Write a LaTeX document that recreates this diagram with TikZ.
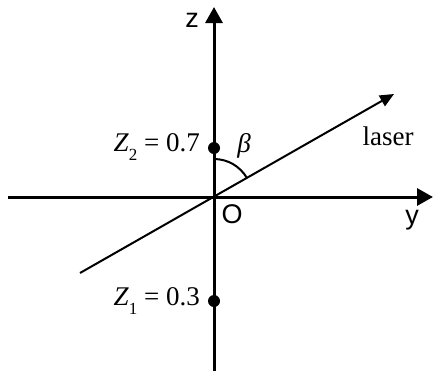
\documentclass[tikz,border=0pt]{standalone}
\usepackage{fontspec}
\setmainfont{Liberation Serif}
\setsansfont{Liberation Sans}
\usetikzlibrary{arrows.meta}
\tikzset{
  axis/.style={line width=3pt, -{Triangle[width=17pt,length=16pt]}},
  thinline/.style={line width=2pt},
  dotmark/.style={circle, fill=black, inner sep=0pt, minimum size=12pt},
  axlabel/.style={font=\sffamily\fontsize{27}{27}\selectfont, inner sep=0pt},
  serlabel/.style={font=\fontsize{27}{27}\selectfont, inner sep=0pt},
}
\begin{document}
\begin{tikzpicture}[x=1pt,y=-1pt]
\useasboundingbox (0,0) rectangle (433,370);
\coordinate (O) at (214,197);
\coordinate (zb) at (214,372);
\coordinate (zt) at (214,7);
\coordinate (yl) at (8,197);
\coordinate (yr) at (433,197);
\coordinate (ls) at (80,273);
\coordinate (le) at (394,94);
\draw[axis] (zb) -- (zt);
\draw[axis] (yl) -- (yr);
\draw[thinline, -{Triangle[width=12pt,length=14pt]}] (ls) -- (le);
\draw[thinline] (214,159) arc[start angle=-90, end angle=-30, radius=38];
\node[dotmark] (z2) at (214,148) {};
\node[dotmark] (z1) at (214,301) {};
\node[serlabel, anchor=east] (l2) at (200,147) {\textit{Z}\raisebox{-0.35em}{\fontsize{17}{17}\selectfont 2}\hspace{0.25em}=\hspace{0.25em}0.7};
\node[serlabel, anchor=east] (l1) at (200,301) {\textit{Z}\raisebox{-0.35em}{\fontsize{17}{17}\selectfont 1}\hspace{0.25em}=\hspace{0.25em}0.3};
\node[serlabel] (beta) at (244,146) {\textit{β}};
\node[serlabel] (laser) at (388,136) {laser};
\node[axlabel] (zl) at (192,20) {z};
\node[axlabel] (ol) at (232,214) {O};
\node[axlabel] (yla) at (412,220) {y};
\end{tikzpicture}
\end{document}
